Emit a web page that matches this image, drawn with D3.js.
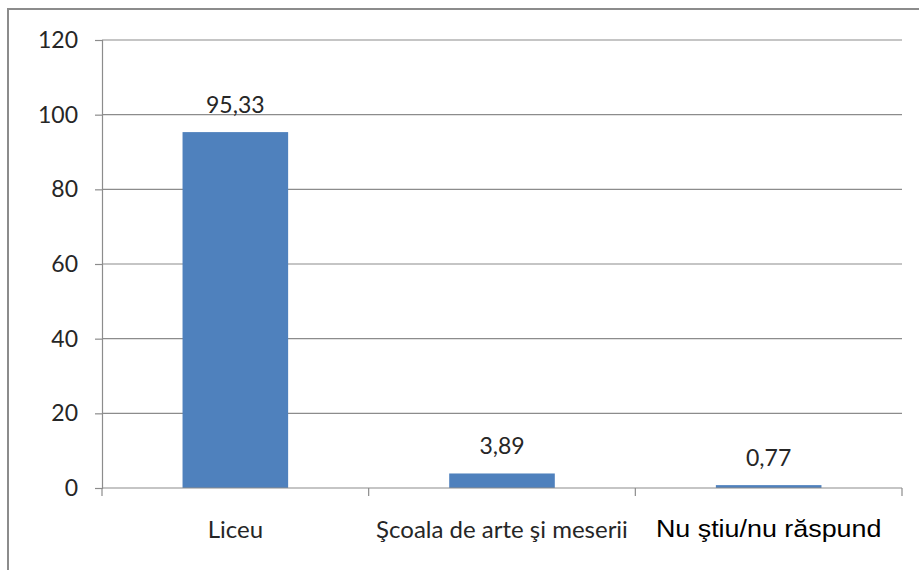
<!DOCTYPE html>
<html>
<head>
<meta charset="utf-8">
<script src="https://cdn.jsdelivr.net/npm/d3@7"></script>
<style>
  body { margin: 0; background: #fff; }
  svg { display: block; }
</style>
</head>
<body>
<svg id="chart" width="919" height="570"></svg>
<script>
// data
var categories = ["Liceu", "Şcoala de arte şi meserii", "Nu ştiu/nu răspund"];
var values = [95.33, 3.89, 0.77];
var valueLabels = ["95,33", "3,89", "0,77"];
var yTicks = [0, 20, 40, 60, 80, 100, 120];

var svg = d3.select("#chart");
var margin = { left: 102, top: 40, right: 17, bottom: 82 };
var W = 919, H = 570;
var calibriLike = "Lato, 'Open Sans', sans-serif";

// chart frame (only left + top edges are visible in the crop)
svg.append("path")
    .attr("d", "M 8 570 L 8 9 L 919 9")
    .attr("fill", "none")
    .attr("stroke", "#8c8c8c")
    .attr("stroke-width", 2);

var x = d3.scaleBand()
    .domain(categories)
    .range([margin.left, W - margin.right])
    .paddingInner(0.604)
    .paddingOuter(0.302);

var y = d3.scaleLinear()
    .domain([0, 120])
    .range([H - margin.bottom, margin.top]);

var g = svg.append("g");

// gridlines
g.selectAll("line.grid").data(yTicks.filter(function (d) { return d > 0; }))
    .enter().append("line")
    .attr("x1", margin.left).attr("x2", W - margin.right)
    .attr("y1", function (d) { return y(d); })
    .attr("y2", function (d) { return y(d); })
    .attr("stroke", "#8c8c8c").attr("stroke-width", 1.2);

// y axis
var yAxis = g.append("g")
    .attr("transform", "translate(" + margin.left + ",0)")
    .call(d3.axisLeft(y).tickValues(yTicks).tickSize(7).tickPadding(17));
yAxis.select(".domain").attr("stroke", "#8c8c8c").attr("stroke-width", 1.2);
yAxis.selectAll(".tick line").attr("stroke", "#8c8c8c").attr("stroke-width", 1.2);
yAxis.selectAll(".tick text")
    .attr("fill", "#262626")
    .style("font-family", calibriLike)
    .style("font-size", "23px");

// bars
g.selectAll("rect.bar").data(values)
    .enter().append("rect")
    .attr("x", function (d, i) { return x(categories[i]); })
    .attr("width", x.bandwidth())
    .attr("y", function (d) { return y(d); })
    .attr("height", function (d) { return y(0) - y(d); })
    .attr("fill", "#4f81bd");

// x axis
var bounds = [0, 1, 2, 3].map(function (i) { return margin.left + i * (W - margin.right - margin.left) / 3; });
g.append("line")
    .attr("x1", margin.left).attr("x2", W - margin.right)
    .attr("y1", y(0)).attr("y2", y(0))
    .attr("stroke", "#8c8c8c").attr("stroke-width", 1.2);
g.selectAll("line.xtick").data(bounds)
    .enter().append("line")
    .attr("x1", function (d) { return d; }).attr("x2", function (d) { return d; })
    .attr("y1", y(0)).attr("y2", y(0) + 8)
    .attr("stroke", "#8c8c8c").attr("stroke-width", 1.2);

// category labels (the last one is in a different, wider font in the original)
g.selectAll("text.cat").data(categories)
    .enter().append("text")
    .attr("transform", function (d, i) {
        var cx = x(d) + x.bandwidth() / 2;
        return i === 2 ? "translate(" + cx + ",537) scale(1.12,1)" : "translate(" + cx + ",538)";
    })
    .attr("text-anchor", "middle")
    .attr("fill", function (d, i) { return i === 2 ? "#000" : "#262626"; })
    .style("font-family", function (d, i) { return i === 2 ? "'Liberation Sans', Arial, sans-serif" : calibriLike; })
    .style("font-size", function (d, i) { return i === 2 ? "24px" : "24px"; })
    .text(function (d) { return d; });

// value labels
g.selectAll("text.val").data(values)
    .enter().append("text")
    .attr("x", function (d, i) { return x(categories[i]) + x.bandwidth() / 2; })
    .attr("y", function (d) { return y(d) - 19; })
    .attr("text-anchor", "middle")
    .attr("fill", "#262626")
    .style("font-family", calibriLike)
    .style("font-size", "23px")
    .text(function (d, i) { return valueLabels[i]; });
</script>
</body>
</html>
